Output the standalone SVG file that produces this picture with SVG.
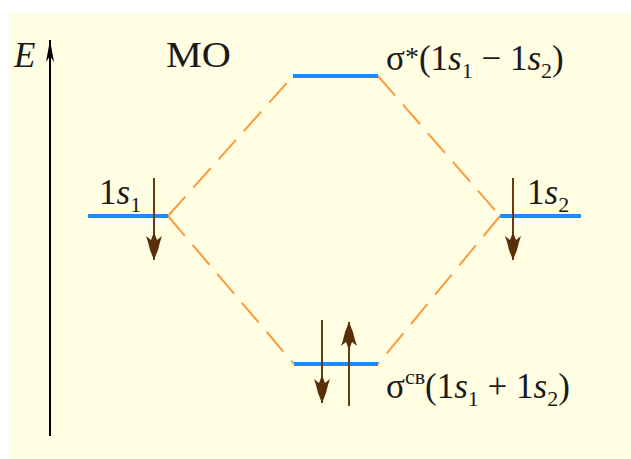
<svg xmlns="http://www.w3.org/2000/svg" width="631" height="459" viewBox="0 0 631 459">
  <style>
    .lvl { stroke: #1a8cff; stroke-width: 4; fill: none; }
    .dash { stroke: #ff9a3c; stroke-width: 2; stroke-dasharray: 26 12; fill: none; }
    .spin { stroke: #6b3a12; stroke-width: 2; fill: none; }
    .t { font-family: "Liberation Serif", "DejaVu Serif", serif; font-size: 35px; fill: #1a1a1a; }
    .it { font-style: italic; }
    .sub { font-size: 22px; }
  </style>
  <defs>
    <marker id="spinHead" markerUnits="userSpaceOnUse" markerWidth="32" markerHeight="18" viewBox="-30 -9 32 18" refX="0" refY="0" orient="auto">
      <path d="M0,0 L-10,-4 L-18,-6 L-24,-8 L-20,-3 L-28,0 L-20,3 L-24,8 L-18,6 L-10,4 Z" fill="#5a2e08"/>
    </marker>
    <marker id="axisHead" markerUnits="userSpaceOnUse" markerWidth="26" markerHeight="12" viewBox="-24 -6 26 12" refX="0" refY="0" orient="auto">
      <path d="M0,0 L-22,-4 L-16,0 L-22,4 Z" fill="#000"/>
    </marker>
  </defs>

  <rect x="9" y="13" width="622" height="446" fill="#fffde2"/>

  <g id="axis">
    <line x1="50" y1="436" x2="50" y2="40" stroke="#000" stroke-width="2" marker-end="url(#axisHead)"/>
    <text class="t it" x="14" y="67">E</text>
  </g>

  <g id="title">
    <text class="t" x="166" y="67" textLength="65" lengthAdjust="spacingAndGlyphs">MO</text>
  </g>

  <g id="connectors">
    <line class="dash" x1="168" y1="216" x2="293" y2="76"/>
    <line class="dash" x1="378" y1="76" x2="500" y2="216"/>
    <line class="dash" x1="168" y1="216" x2="294" y2="364"/>
    <line class="dash" x1="500" y1="216" x2="378" y2="364"/>
  </g>

  <g id="ao1">
    <line class="lvl" x1="88" y1="216" x2="168" y2="216"/>
    <text class="t" x="99" y="204">1<tspan class="it">s</tspan><tspan class="sub" dy="8">1</tspan></text>
    <line class="spin" x1="154" y1="178" x2="154" y2="260" marker-end="url(#spinHead)"/>
  </g>

  <g id="ao2">
    <line class="lvl" x1="500" y1="216" x2="581" y2="216"/>
    <text class="t" x="527" y="204">1<tspan class="it">s</tspan><tspan class="sub" dy="8">2</tspan></text>
    <line class="spin" x1="513" y1="178" x2="513" y2="260" marker-end="url(#spinHead)"/>
  </g>

  <g id="antibonding">
    <line class="lvl" x1="293" y1="76" x2="378" y2="76"/>
    <text class="t" x="386" y="70">σ<tspan font-size="28" dy="-4">*</tspan><tspan dy="4">(1</tspan><tspan class="it">s</tspan><tspan class="sub" dy="8">1</tspan><tspan dy="-8"> − 1</tspan><tspan class="it">s</tspan><tspan class="sub" dy="8">2</tspan><tspan dy="-8">)</tspan></text>
  </g>

  <g id="bonding">
    <line class="lvl" x1="294" y1="364" x2="378" y2="364"/>
    <line class="spin" x1="322" y1="320" x2="322" y2="403" marker-end="url(#spinHead)"/>
    <line class="spin" x1="349" y1="406" x2="349" y2="322" marker-end="url(#spinHead)"/>
    <text class="t" x="386" y="398">σ<tspan class="sub" dy="-14" font-size="15">св</tspan><tspan dy="14">(1</tspan><tspan class="it">s</tspan><tspan class="sub" dy="8">1</tspan><tspan dy="-8">  + 1</tspan><tspan class="it">s</tspan><tspan class="sub" dy="8">2</tspan><tspan dy="-8">)</tspan></text>
  </g>
</svg>
